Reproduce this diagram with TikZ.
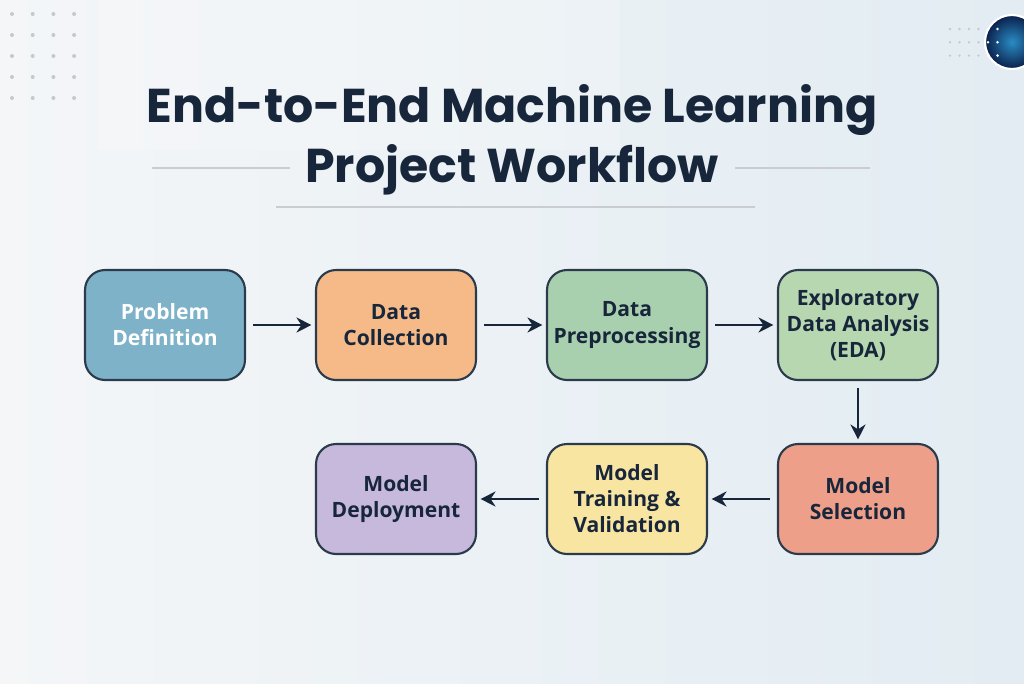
\documentclass[tikz,border=0pt]{standalone}
\usepackage{fontspec}
\setmainfont{Open Sans}
\newfontfamily\titlefont{Poppins}
\usepackage{tikz}
\usetikzlibrary{arrows.meta}
\usetikzlibrary{calc}
\usetikzlibrary{math}

\definecolor{navy}{HTML}{17263A}
\definecolor{edge}{HTML}{2B3B4C}
\definecolor{bgleft}{HTML}{F4F6F8}
\definecolor{bgright}{HTML}{E2ECF2}
\definecolor{dotgray}{HTML}{C5C9CD}
\definecolor{rulegray}{HTML}{C9CDD1}
\definecolor{problemfill}{HTML}{7EB2C8}
\definecolor{collectfill}{HTML}{F5BA88}
\definecolor{prepfill}{HTML}{A9D0AE}
\definecolor{edafill}{HTML}{B7D7B1}
\definecolor{selectfill}{HTML}{EE9F89}
\definecolor{trainfill}{HTML}{F8E5A2}
\definecolor{deployfill}{HTML}{C7B9DC}
\definecolor{orblight}{HTML}{2A8CC4}
\definecolor{orbdark}{HTML}{0A1F4A}

\tikzset{
  stage/.style={draw=edge, line width=1.2pt, rounded corners=0.4cm,
    minimum width=3.2cm, minimum height=2.2cm, align=center,
    font=\fontsize{12}{14.8}\selectfont\bfseries, text=navy, inner sep=2pt},
  flow/.style={-{Stealth[length=8.5pt,width=8.5pt]}, draw=navy, line width=1.4pt,
    shorten <=4pt, shorten >=2pt},
}

\begin{document}
\begin{tikzpicture}[x=0.02cm, y=-0.02cm]

  \tikzmath{
    \dx   = 231; % horizontal distance between stages
    \rowa = 325; % centre of first row
    \rowb = 499; % centre of second row
    \xa   = 165; % centre of first column
    \dotr = 2;   % radius of background dots
  }

  % background
  \useasboundingbox (0,0) rectangle (1024,683);
  \shade[left color=bgleft, right color=bgright] (0,0) rectangle (1024,683);
  \fill[white, opacity=0.18] (98,0) rectangle (620,150);

  % dot grid top left
  \foreach \i in {0,...,3}
    \foreach \j in {0,...,4}
      \fill[dotgray] (12+20.7*\i, 14+21*\j) circle [radius=\dotr];

  % dot grid and orb top right
  \foreach \i in {0,...,3}
    \foreach \j in {0,...,2}
      \fill[dotgray] (950+9.5*\i, 29+13.3*\j) circle [radius=1.3];
  \coordinate (O) at (1012, 42);
  \shade[inner color=orblight, outer color=orbdark, draw=white, line width=1.2pt]
    (O) circle [radius=27];
  \foreach \i in {0,1}
    \foreach \j in {0,...,2}
      \fill[white] (988+9.5*\i, 29+13.3*\j) circle [radius=1.4];

  % title
  \node[text=navy, font=\titlefont\fontsize{27}{30}\selectfont\bfseries]
    (title1) at (512, 110) {End-to-End Machine Learning};
  \node[text=navy, font=\titlefont\fontsize{27}{30}\selectfont\bfseries]
    (title2) at (512, 170) {Project Workflow};
  \draw[rulegray, line width=0.9pt] (152,168) -- (290,168);
  \draw[rulegray, line width=0.9pt] (735,168) -- (870,168);
  \draw[rulegray, line width=0.9pt] (276,207) -- (755,207);

  % first row
  \node[stage, fill=problemfill, text=white] (problem) at (\xa, \rowa)
    {Problem\\Definition};
  \node[stage, fill=collectfill] (collect) at (\xa+\dx, \rowa)
    {Data\\Collection};
  \node[stage, fill=prepfill] (prep) at (\xa+2*\dx, \rowa)
    {Data\\Preprocessing};
  \node[stage, fill=edafill] (eda) at (\xa+3*\dx, \rowa)
    {Exploratory\\Data Analysis\\(EDA)};

  % second row
  \node[stage, fill=selectfill] (select) at (\xa+3*\dx, \rowb)
    {Model\\Selection};
  \node[stage, fill=trainfill] (train) at (\xa+2*\dx, \rowb)
    {Model\\Training \&\\Validation};
  \node[stage, fill=deployfill] (deploy) at (\xa+\dx, \rowb)
    {Model\\Deployment};

  % connectors
  \draw[flow] (problem) -- (collect);
  \draw[flow] (collect) -- (prep);
  \draw[flow] (prep) -- (eda);
  \draw[flow] (eda) -- (select);
  \draw[flow] (select) -- (train);
  \draw[flow] (train) -- (deploy);

\end{tikzpicture}
\end{document}
